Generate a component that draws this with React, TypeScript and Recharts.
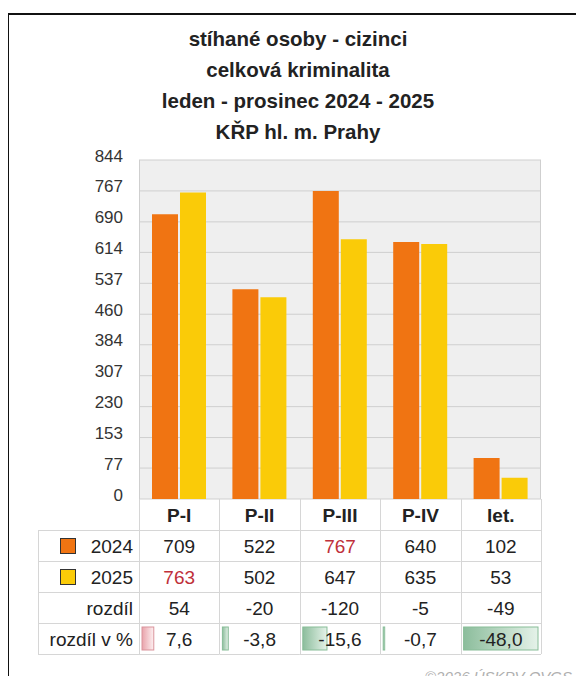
import React from "react";
import { BarChart, Bar, XAxis, YAxis, CartesianGrid } from "recharts";

const categories = ["P-I", "P-II", "P-III", "P-IV", "let."];
const values2024 = [709, 522, 767, 640, 102];
const values2025 = [763, 502, 647, 635, 53];
const diffs = [54, -20, -120, -5, -49];
const diffPct = [7.6, -3.8, -15.6, -0.7, -48.0];
const yTicks = [0, 77, 153, 230, 307, 384, 460, 537, 614, 690, 767, 844];
const titleLines = [
  "stíhané osoby - cizinci",
  "celková kriminalita",
  "leden - prosinec 2024 - 2025",
  "KŘP hl. m. Prahy",
];

const data = categories.map((name, i) => ({
  name,
  y2024: values2024[i],
  y2025: values2025[i],
}));

const W = 584;
const H = 684;
const PLOT = { left: 139, right: 541, top: 160, bottom: 499 };
const YAXIS_W = 100;
const ROW_H = 31;
const COL_W = (PLOT.right - PLOT.left) / categories.length;
const LABEL_LEFT = 38;
const FONT = "'Liberation Sans', Arial, sans-serif";
const ORANGE = "#f07412";
const YELLOW = "#facb08";
const RED = "#c0303a";
const GRID = "#cfcfcf";
const LINE = "#d6d6d6";

const max2024 = Math.max(...values2024);
const max2025 = Math.max(...values2025);
const maxPct = Math.max(...diffPct.map((p) => Math.abs(p)));

const fmtPct = (p: number) => p.toFixed(1).replace(".", ",");

const YTick = (props: any) => {
  const { y, payload } = props;
  return (
    <text
      x={PLOT.left - 16}
      y={y - 4}
      textAnchor="end"
      dominantBaseline="central"
      fontFamily={FONT}
      fontSize={17}
      fill="#333"
    >
      {payload.value}
    </text>
  );
};

// each x tick draws one column of the table under the plot
const TableColumn = (props: any) => {
  const { x, payload } = props;
  const i = categories.indexOf(payload.value);
  const left = x - COL_W / 2;
  const right = x + COL_W / 2;
  const top = PLOT.bottom;
  const rowMid = (r: number) => top + r * ROW_H + ROW_H / 2 + 1;
  const p = diffPct[i];
  const boxW = Math.max(1.5, (Math.abs(p) / maxPct) * (COL_W - 6));
  const rowTop4 = top + 4 * ROW_H;
  const cells = [
    { t: String(values2024[i]), c: values2024[i] === max2024 ? RED : "#222" },
    { t: String(values2025[i]), c: values2025[i] === max2025 ? RED : "#222" },
    { t: String(diffs[i]), c: "#222" },
    { t: fmtPct(p), c: "#222" },
  ];
  return (
    <g>
      {[1, 2, 3, 4, 5].map((r) => (
        <line key={r} x1={left} x2={right} y1={top + r * ROW_H + 0.5} y2={top + r * ROW_H + 0.5} stroke={LINE} />
      ))}
      <line x1={Math.round(left) + 0.5} x2={Math.round(left) + 0.5} y1={top} y2={top + 5 * ROW_H} stroke={LINE} />
      <line x1={Math.round(right) + 0.5} x2={Math.round(right) + 0.5} y1={top} y2={top + 5 * ROW_H} stroke={LINE} />
      <rect
        x={left + 3}
        y={rowTop4 + 4}
        width={boxW}
        height={ROW_H - 8}
        fill={p >= 0 ? "url(#gPos)" : "url(#gNeg)"}
        stroke={p >= 0 ? "#d9939b" : "#88bd98"}
      />
      <text x={x} y={rowMid(0)} textAnchor="middle" dominantBaseline="central" fontFamily={FONT} fontSize={19} fontWeight="bold" fill="#222">
        {payload.value}
      </text>
      {cells.map((c, r) => (
        <text key={r} x={x} y={rowMid(r + 1)} textAnchor="middle" dominantBaseline="central" fontFamily={FONT} fontSize={19} fill={c.c}>
          {c.t}
        </text>
      ))}
    </g>
  );
};

export default function App() {
  const rowLabels = ["2024", "2025", "rozdíl", "rozdíl v %"];
  const legendColors = [ORANGE, YELLOW];
  return (
    <div style={{ position: "relative", width: W - 16, height: H - 16 }}>
      <div style={{ position: "absolute", left: -8, top: -8, width: W, height: H, background: "#fff" }}>
        <svg width={0} height={0} style={{ position: "absolute" }}>
          <defs>
            <linearGradient id="gPos" x1="0" x2="1" y1="0" y2="0">
              <stop offset="0%" stopColor="#e9a3ab" />
              <stop offset="100%" stopColor="#fdf0f1" />
            </linearGradient>
            <linearGradient id="gNeg" x1="0" x2="1" y1="0" y2="0">
              <stop offset="0%" stopColor="#8cbd9c" />
              <stop offset="100%" stopColor="#e5f2e9" />
            </linearGradient>
          </defs>
        </svg>
        <BarChart
          width={W}
          height={H}
          data={data}
          barSize={26}
          barGap={2}
          margin={{
            top: PLOT.top,
            right: W - PLOT.right,
            bottom: H - PLOT.bottom - 5 * ROW_H,
            left: PLOT.left - YAXIS_W,
          }}
        >
          <CartesianGrid
            fill="#efefef"
            stroke={GRID}
            vertical={true}
            verticalPoints={[PLOT.left + 0.5, PLOT.right - 0.5]}
          />
          <XAxis
            dataKey="name"
            axisLine={false}
            tickLine={false}
            height={5 * ROW_H}
            interval={0}
            tick={<TableColumn />}
          />
          <YAxis
            width={YAXIS_W}
            domain={[0, 844]}
            ticks={yTicks}
            interval={0}
            axisLine={false}
            tickLine={false}
            tick={<YTick />}
          />
          <Bar dataKey="y2024" fill={ORANGE} isAnimationActive={false} />
          <Bar dataKey="y2025" fill={YELLOW} isAnimationActive={false} />
        </BarChart>
        <svg width={W} height={H} style={{ position: "absolute", left: 0, top: 0, pointerEvents: "none" }}>
          <rect x={7} y={13} width={W - 7} height={2} fill="#111" />
          <rect x={7} y={13} width={2} height={H - 13} fill="#111" />
          {titleLines.map((t, i) => (
            <text key={i} x={298} y={38 + i * 31} textAnchor="middle" dominantBaseline="central" fontFamily={FONT} fontSize={20.5} fontWeight="bold" fill="#222">
              {t}
            </text>
          ))}
          {[1, 2, 3, 4, 5].map((r) => (
            <line key={r} x1={LABEL_LEFT} x2={PLOT.left} y1={PLOT.bottom + r * ROW_H + 0.5} y2={PLOT.bottom + r * ROW_H + 0.5} stroke={LINE} />
          ))}
          <line x1={LABEL_LEFT + 0.5} x2={LABEL_LEFT + 0.5} y1={PLOT.bottom + ROW_H} y2={PLOT.bottom + 5 * ROW_H} stroke={LINE} />
          {rowLabels.map((t, r) => (
            <text key={t} x={133} y={PLOT.bottom + (r + 1) * ROW_H + ROW_H / 2 + 1} textAnchor="end" dominantBaseline="central" fontFamily={FONT} fontSize={19} fill="#222">
              {t}
            </text>
          ))}
          {legendColors.map((c, r) => (
            <rect key={c} x={60.5} y={PLOT.bottom + (r + 1) * ROW_H + 8.5} width={15} height={15} fill={c} stroke="#333" />
          ))}
          <text x={572} y={682} textAnchor="end" fontFamily={FONT} fontSize={15} fontStyle="italic" fill="#b0b0b0">
            ©2026 ÚSKPV OVGS
          </text>
        </svg>
      </div>
    </div>
  );
}
